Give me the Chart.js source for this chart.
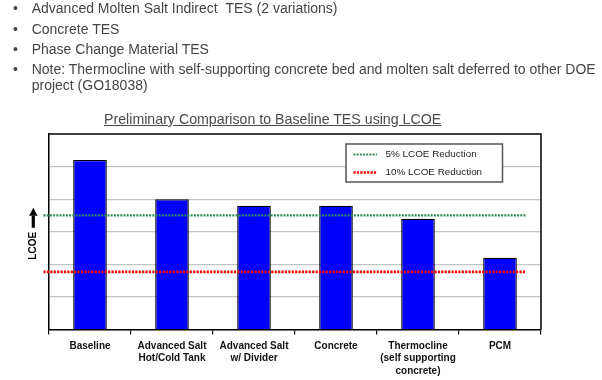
<!DOCTYPE html>
<html>
<head>
<meta charset="utf-8">
<script src="https://cdn.jsdelivr.net/npm/chart.js@4/dist/chart.umd.min.js"></script>
<style>
  body { margin: 0; background: #fff; }
  #page { position: relative; width: 602px; height: 380px; overflow: hidden; font-family: "Liberation Sans", Arial, sans-serif; }
  #canvas { position: absolute; left: 0; top: 0; }
  .bullet { position: absolute; left: 13px; font-size: 14px; line-height: 16px; color: #454545; }
  .bullet span { position: absolute; left: 18.7px; white-space: nowrap; }
  #title { position: absolute; left: 104px; top: 111px; font-size: 14.2px; line-height: 16px; color: #4a4a4a; text-decoration: underline; white-space: nowrap; }
</style>
</head>
<body>
<div id="page">
  <canvas id="canvas" width="602" height="380"></canvas>
  <div class="bullet" style="top:0px">&bull;<span>Advanced Molten Salt Indirect &nbsp;TES (2 variations)</span></div>
  <div class="bullet" style="top:21px">&bull;<span>Concrete TES</span></div>
  <div class="bullet" style="top:41px">&bull;<span>Phase Change Material TES</span></div>
  <div class="bullet" style="top:61px">&bull;<span>Note: Thermocline with self-supporting concrete bed and molten salt deferred to other DOE<br>project (GO18038)</span></div>
  <div id="title">Preliminary Comparison to Baseline TES using LCOE</div>
</div>
<script>
var categories = [
    ["Baseline"],
    ["Advanced Salt", "Hot/Cold Tank"],
    ["Advanced Salt", "w/ Divider"],
    ["Concrete"],
    ["Thermocline", "(self supporting", "concrete)"],
    ["PCM"]
];
var lcoeValues = [5.2, 4.0, 3.8, 3.8, 3.4, 2.2];
var reduction5 = 3.5;
var reduction10 = 1.77;
var yTicks = [0, 1, 2, 3, 4, 5, 6];

function flatLine(v) {
    return [{x: 0, y: v}, {x: 1, y: v}];
}

// black box round the plot area
var framePlugin = {
    id: 'frame',
    afterDatasetsDraw: function(chart) {
        var a = chart.chartArea, ctx = chart.ctx;
        ctx.save();
        ctx.strokeStyle = '#000';
        ctx.lineWidth = 1.5;
        ctx.beginPath();
        ctx.moveTo(a.left, a.top);
        ctx.lineTo(a.right, a.top);
        ctx.lineTo(a.right, a.bottom);
        ctx.stroke();
        ctx.restore();
    }
};

// LCOE label with up arrow
var lcoeLabel = {
    id: 'lcoeLabel',
    afterDraw: function(chart) {
        var ctx = chart.ctx, x = 33.3, a = chart.chartArea;
        var mid = (a.top + a.bottom) / 2;
        ctx.save();
        ctx.fillStyle = '#000';
        ctx.translate(x, mid + 14);
        ctx.rotate(-Math.PI / 2);
        ctx.font = 'bold 10px "Liberation Sans", Arial, sans-serif';
        ctx.textAlign = 'center';
        ctx.textBaseline = 'middle';
        ctx.fillText('LCOE', 0, 0);
        ctx.restore();
        ctx.save();
        ctx.fillStyle = '#000';
        ctx.fillRect(x - 1.6, mid - 16, 3.2, 12);
        ctx.beginPath();
        ctx.moveTo(x - 4.2, mid - 16);
        ctx.lineTo(x + 4.2, mid - 16);
        ctx.lineTo(x, mid - 24);
        ctx.closePath();
        ctx.fill();
        ctx.restore();
    }
};

// boxed legend inside the plot
var boxLegend = {
    id: 'boxLegend',
    afterDraw: function(chart) {
        var ctx = chart.ctx, a = chart.chartArea;
        var w = 156.5, h = 38;
        var left = a.right - 38.5 - w, top = a.top + 10;
        ctx.save();
        ctx.fillStyle = '#fff';
        ctx.fillRect(left, top, w, h);
        ctx.strokeStyle = '#555';
        ctx.lineWidth = 1.5;
        ctx.strokeRect(left, top, w, h);
        var row = 0;
        chart.data.datasets.forEach(function(ds) {
            if (ds.type !== 'line') return;
            var y = top + 10.5 + row * 18;
            ctx.setLineDash(ds.borderDash);
            ctx.lineWidth = ds.borderWidth;
            ctx.strokeStyle = ds.borderColor;
            ctx.beginPath();
            ctx.moveTo(left + 7.5, y);
            ctx.lineTo(left + 31, y);
            ctx.stroke();
            ctx.setLineDash([]);
            ctx.fillStyle = '#222';
            ctx.font = '9.9px "Liberation Sans", Arial, sans-serif';
            ctx.textBaseline = 'middle';
            ctx.fillText(ds.label, left + 39.5, y);
            row++;
        });
        ctx.restore();
    }
};

window.onload = function() {
    Chart.defaults.font.family = '"Liberation Sans", Arial, sans-serif';
    var ctx = document.getElementById("canvas").getContext("2d");
    new Chart(ctx, {
        type: 'bar',
        data: {
            labels: categories,
            datasets: [{
                label: 'LCOE',
                data: lcoeValues,
                backgroundColor: '#0000FF',
                borderColor: '#000',
                borderWidth: 1.3,
                grouped: false,
                categoryPercentage: 1,
                barPercentage: 0.41,
                order: 2
            }, {
                type: 'line',
                label: '5% LCOE Reduction',
                data: flatLine(reduction5),
                xAxisID: 'x2',
                borderColor: '#2E8B57',
                borderWidth: 2.2,
                borderDash: [2, 1.2],
                pointRadius: 0,
                clip: false,
                order: 1
            }, {
                type: 'line',
                label: '10% LCOE Reduction',
                data: flatLine(reduction10),
                xAxisID: 'x2',
                borderColor: '#FF0000',
                borderWidth: 2.6,
                borderDash: [2.2, 1.2],
                pointRadius: 0,
                clip: false,
                order: 1
            }]
        },
        options: {
            responsive: false,
            animation: false,
            layout: { padding: { top: 134, left: 49, right: 61, bottom: -2 } },
            plugins: { legend: { display: false }, tooltip: { enabled: false } },
            scales: {
                x: {
                    offset: true,
                    grid: { drawOnChartArea: false, color: '#000', tickLength: 5, lineWidth: 1.2 },
                    border: { color: '#000', width: 1.5 },
                    ticks: {
                        color: '#111',
                        padding: 5,
                        maxRotation: 0,
                        autoSkip: false,
                        font: { size: 10, weight: 'bold', lineHeight: 1.25 }
                    }
                },
                x2: {
                    type: 'linear',
                    display: false,
                    offset: false,
                    grid: { offset: false },
                    min: 0.0114,
                    max: 1.0311
                },
                y: {
                    min: yTicks[0],
                    max: yTicks[yTicks.length - 1],
                    afterBuildTicks: function(axis) {
                        axis.ticks = yTicks.map(function(v) { return {value: v}; });
                    },
                    ticks: { display: false },
                    grid: {
                        drawTicks: false,
                        color: function(c) { return c.tick && c.tick.value === 6 ? 'rgba(0,0,0,0)' : '#c4c4c4'; },
                        lineWidth: 1.2
                    },
                    border: { color: '#000', width: 1.5 }
                }
            }
        },
        plugins: [framePlugin, lcoeLabel, boxLegend]
    });
};
</script>
</body>
</html>
